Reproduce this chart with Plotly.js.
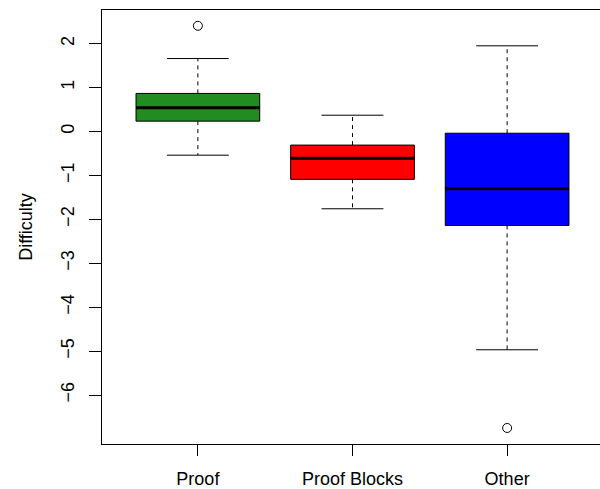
<!DOCTYPE html>
<html>
<head>
<meta charset="utf-8">
<script src="https://cdn.plot.ly/plotly-3.0.1.min.js"></script>
<style>html,body{margin:0;padding:0;overflow:hidden;background:#fff;width:600px;height:489px}</style>
</head>
<body>
<div style="width:600px;height:489px;overflow:hidden">
<div id="chart" style="width:603px;height:489px"></div>
</div>
<script>
const categories = ['Proof', 'Proof Blocks', 'Other'];
const lowerWhisker = [-0.54, -1.76, -4.97];
const q1 = [0.235, -1.09, -2.14];
const median = [0.54, -0.61, -1.30];
const q3 = [0.866, -0.31, -0.04];
const upperWhisker = [1.66, 0.37, 1.95];
const outlierGroup = [0, 2];
const outlierValue = [2.405, -6.75];
const fillColors = ['#228B22', '#FF0000', '#0000FF'];
const yTicks = [-6, -5, -4, -3, -2, -1, 0, 1, 2];

const HALF = 0.4, CAP = 0.2;
const FONT = 'Liberation Sans, Arial, Helvetica, sans-serif';
const traces = [];
categories.forEach((c, i) => {
  const x = i + 1;
  traces.push({
    type: 'scatter', mode: 'lines', hoverinfo: 'skip', showlegend: false,
    x: [x, x, null, x, x], y: [q3[i], upperWhisker[i], null, q1[i], lowerWhisker[i]],
    line: {color: '#000', width: 1, dash: '4px,4px'}
  });
  traces.push({
    type: 'scatter', mode: 'lines', hoverinfo: 'skip', showlegend: false,
    x: [x - CAP, x + CAP, null, x - CAP, x + CAP],
    y: [upperWhisker[i], upperWhisker[i], null, lowerWhisker[i], lowerWhisker[i]],
    line: {color: '#000', width: 1}
  });
  traces.push({
    type: 'scatter', mode: 'lines', hoverinfo: 'skip', showlegend: false,
    x: [x - HALF, x + HALF, x + HALF, x - HALF, x - HALF],
    y: [q1[i], q1[i], q3[i], q3[i], q1[i]],
    fill: 'toself', fillcolor: fillColors[i],
    line: {color: '#000', width: 1}
  });
  traces.push({
    type: 'scatter', mode: 'lines', hoverinfo: 'skip', showlegend: false,
    x: [x - HALF, x + HALF], y: [median[i], median[i]],
    line: {color: '#000', width: 3.2}
  });
});
traces.push({
  type: 'scatter', mode: 'markers', showlegend: false,
  x: outlierGroup.map(g => g + 1), y: outlierValue,
  marker: {symbol: 'circle-open', size: 9, color: '#000', line: {width: 1, color: '#000'}}
});

const layout = {
  width: 603, height: 489,
  margin: {l: 102, r: 0, t: 10, b: 45},
  paper_bgcolor: '#fff', plot_bgcolor: '#fff',
  font: {family: FONT, size: 18, color: '#000'},
  showlegend: false,
  xaxis: {
    range: [0.38, 3.62], tickmode: 'array', tickvals: categories.map((c, i) => i + 1), ticktext: categories,
    showgrid: false, zeroline: false, showline: true, mirror: true, linecolor: '#000', linewidth: 1,
    ticks: 'outside', ticklen: 11, tickcolor: '#000', tickwidth: 1,
    tickfont: {family: FONT, size: 18, color: '#000'}, ticklabelstandoff: 7
  },
  yaxis: {
    range: [-7.115, 2.765], tickmode: 'array', tickvals: yTicks,
    ticktext: yTicks.map(v => v < 0 ? '\u2212' + Math.abs(v) : String(v)),
    tickangle: -90,
    showgrid: false, zeroline: false, showline: true, linecolor: '#000', linewidth: 1,
    ticks: 'outside', ticklen: 12, tickcolor: '#000', tickwidth: 1,
    tickfont: {family: FONT, size: 18, color: '#000'}, ticklabelstandoff: 8,
    title: {text: 'Difficulty', font: {family: FONT, size: 18, color: '#000'}, standoff: 20}
  }
};
Plotly.newPlot('chart', traces, layout, {displayModeBar: false, staticPlot: true});
</script>
</body>
</html>
